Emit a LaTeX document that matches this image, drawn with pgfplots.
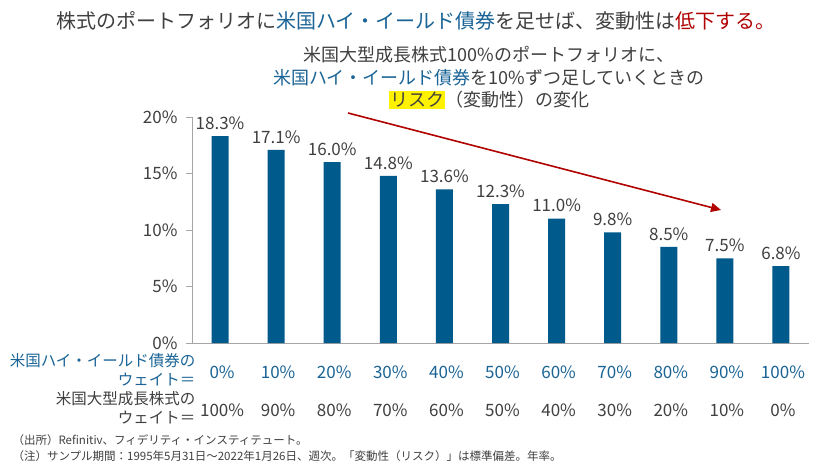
\documentclass[border=0pt]{standalone}
\usepackage{pgfplots}
\pgfplotsset{compat=1.18}
\usepackage{fontspec}
\setmainfont{Noto Sans CJK JP}
\usetikzlibrary{arrows.meta}
\definecolor{barblue}{HTML}{005A8C}
\definecolor{hyblue}{HTML}{1A6496}
\definecolor{dred}{HTML}{B00000}
\definecolor{tgrey}{HTML}{404040}
\definecolor{agrey}{HTML}{A6A6A6}
\begin{document}
\begin{tikzpicture}
\path[use as bounding box, fill=white] (0,0) rectangle (825pt,464pt);
\node[text=tgrey, font=\fontsize{20}{22}\selectfont] at (416pt,443pt)
  {株式のポートフォリオに\textcolor{hyblue}{米国ハイ・イールド債券}を足せば、変動性は\textcolor{dred}{低下する。}};
\node[text=tgrey, font=\fontsize{18}{22}\selectfont] at (489pt,409pt)
  {米国大型成長株式100\%のポートフォリオに、};
\node[text=tgrey, font=\fontsize{18}{22}\selectfont] at (489pt,386pt)
  {\textcolor{hyblue}{米国ハイ・イールド債券}を10\%ずつ足していくときの};
\node[text=tgrey, font=\fontsize{18}{22}\selectfont] at (489pt,364pt)
  {{\setlength{\fboxsep}{1pt}\colorbox{yellow}{リスク}}（変動性）の変化};
\begin{axis}[
  at={(192pt,121pt)}, anchor=south west,
  scale only axis, width=617pt, height=226pt,
  xmin=-0.5, xmax=10.5, ymin=0, ymax=20,
  axis x line*=bottom, axis y line*=left,
  axis line style={agrey, line width=0.8pt},
  xtick={0,...,10},
  minor xtick={-0.5,0.5,...,10.5},
  xtick style={draw=none},
  minor x tick style={agrey, line width=0.8pt},
  minor tick length=7pt,
  tick align=outside,
  ytick={0,5,10,15,20},
  ytick style={agrey, line width=0.8pt},
  major tick length=6pt,
  /pgf/number format/assume math mode=true,
  yticklabel={\pgfmathprintnumber{\tick}\%},
  yticklabel style={text=tgrey, font=\fontsize{17}{18}\selectfont, xshift=-5pt},
  xticklabels={
    {\textcolor{hyblue}{0\%}\\100\%},
    {\textcolor{hyblue}{10\%}\\90\%},
    {\textcolor{hyblue}{20\%}\\80\%},
    {\textcolor{hyblue}{30\%}\\70\%},
    {\textcolor{hyblue}{40\%}\\60\%},
    {\textcolor{hyblue}{50\%}\\50\%},
    {\textcolor{hyblue}{60\%}\\40\%},
    {\textcolor{hyblue}{70\%}\\30\%},
    {\textcolor{hyblue}{80\%}\\20\%},
    {\textcolor{hyblue}{90\%}\\10\%},
    {\textcolor{hyblue}{100\%}\\0\%}},
  xticklabel style={align=center, text=tgrey, font=\fontsize{17}{38}\selectfont, yshift=-13pt, xshift=2pt},
  ybar, bar width=17pt,
  nodes near coords={\pgfmathprintnumber[fixed,fixed zerofill,precision=1]{\pgfplotspointmeta}\%},
  nodes near coords style={text=tgrey, font=\fontsize{17}{18}\selectfont, yshift=3pt},
  clip=false,
]
\addplot[fill=barblue, draw=none] coordinates {
  (0,18.3) (1,17.1) (2,16.0) (3,14.8) (4,13.6) (5,12.3)
  (6,11.0) (7,9.8) (8,8.5) (9,7.5) (10,6.8)};
\end{axis}
\draw[dred, line width=1.6pt, -{Triangle[length=10pt,width=9pt]}] (348pt,351pt) -- (721pt,254pt);
\node[anchor=east, align=right, text=hyblue, font=\fontsize{15.5}{19}\selectfont] at (199pt,94pt)
  {米国ハイ・イールド債券の\\ウェイト＝};
\node[anchor=east, align=right, text=tgrey, font=\fontsize{15.5}{19}\selectfont] at (199pt,56pt)
  {米国大型成長株式の\\ウェイト＝};
\node[anchor=west, text=tgrey, font=\fontsize{11.5}{14}\selectfont] at (9pt,24pt)
  {（出所）Refinitiv、フィデリティ・インスティテュート。};
\node[anchor=west, text=tgrey, font=\fontsize{11.5}{14}\selectfont] at (9pt,8pt)
  {（注）サンプル期間：1995年5月31日～2022年1月26日、週次。「変動性（リスク）」は標準偏差。年率。};
\end{tikzpicture}
\end{document}
